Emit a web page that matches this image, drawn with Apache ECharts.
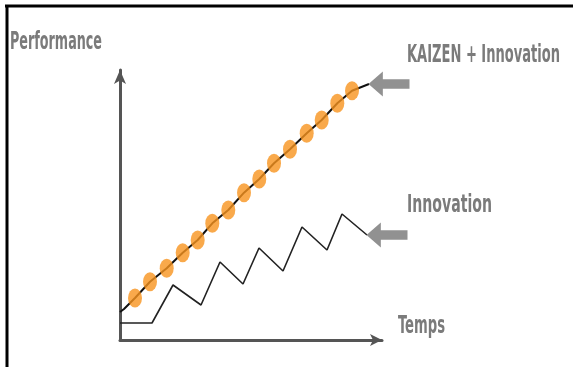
<!DOCTYPE html>
<html><head><meta charset="utf-8">
<script src="https://cdn.jsdelivr.net/npm/echarts@6/dist/echarts.min.js"></script>
<style>html,body{margin:0;padding:0;background:#fff}#c{width:573px;height:367px}</style>
</head><body><div id="c"></div>
<script>
// Data (units: abstract time / performance)
const kaizenLineX = [0, 4, 15, 30, 46.7, 62.7, 77.7, 92.3, 108.3, 124, 139.3, 154, 170, 186.7, 201.7, 217.3, 232, 249];
const kaizenLineY = [28, 31, 42, 58.3, 71.7, 87.3, 100, 116.7, 130, 147.3, 161, 176.7, 190.7, 206.7, 220, 236.7, 249.3, 256];
const kaizenDotX = [15, 30, 46.7, 62.7, 77.7, 92.3, 108.3, 124, 139.3, 154, 170, 186.7, 201.7, 217.3, 232];
const kaizenDotY = [42, 58.3, 71.7, 87.3, 100, 116.7, 130, 147.3, 161, 176.7, 190.7, 206.7, 220, 236.7, 249.3];
const innovationX = [0, 32, 53, 81, 100, 123, 139, 163, 182, 207, 222, 247];
const innovationY = [17, 17, 55, 35, 78, 56, 92, 69, 113, 90, 126, 105];
const arrowX = [249, 247];
const arrowY = [256, 105];
const labelX = [287, 287];
const labelY = [285, 135];
const labelText = ['KAIZEN + Innovation', 'Innovation'];
const xName = 'Temps';
const yName = 'Performance';

const FONT_FAMILY = "'DejaVu Sans Condensed', 'DejaVu Sans', sans-serif";
const FONT = 'bold 25px ' + FONT_FAMILY;
const TEXT_COLOR = '#7b7b7b';
const zip = (xs, ys) => xs.map((x, i) => [x, ys[i]]);
const arrowPath = 'path://M0,12 L14,0 L14,7.5 L40,7.5 L40,16.5 L14,16.5 L14,24 Z';

const measureCtx = document.createElement('canvas').getContext('2d');
function widthOf(text) { measureCtx.font = FONT; return measureCtx.measureText(text).width; }

const chart = echarts.init(document.getElementById('c'), null, {renderer: 'canvas'});
chart.setOption({
  backgroundColor: '#ffffff',
  animation: false,
  grid: {left: 120, right: 191, top: 70, bottom: 27, containLabel: false, outerBoundsMode: 'none'},
  xAxis: {
    type: 'value', min: 0, max: 262,
    axisLine: {show: true, symbol: ['none', 'arrow'], symbolSize: [9, 12], lineStyle: {color: '#555', width: 3}},
    axisTick: {show: false}, axisLabel: {show: false}, splitLine: {show: false}
  },
  yAxis: {
    type: 'value', min: 0, max: 270,
    axisLine: {show: true, symbol: ['none', 'arrow'], symbolSize: [9, 14], lineStyle: {color: '#555', width: 3}},
    axisTick: {show: false}, axisLabel: {show: false}, splitLine: {show: false}
  },
  series: [
    {
      type: 'line', name: 'Innovation', data: zip(innovationX, innovationY),
      showSymbol: false, clip: false,
      lineStyle: {color: '#222', width: 1.6}, z: 3
    },
    {
      type: 'line', name: 'KAIZEN + Innovation', data: zip(kaizenLineX, kaizenLineY),
      showSymbol: false, clip: false,
      lineStyle: {color: '#111', width: 2}, z: 3
    },
    {
      type: 'scatter', name: 'KAIZEN dots', data: zip(kaizenDotX, kaizenDotY),
      symbol: 'circle', symbolSize: [14, 19], clip: false,
      itemStyle: {color: '#F7941E'}, z: 4
    },
    {
      type: 'scatter', name: 'arrows', data: zip(arrowX, arrowY),
      symbol: arrowPath, symbolSize: [41, 25], symbolOffset: [20, 0], clip: false,
      itemStyle: {color: '#767676'}, z: 5
    }
  ]
});

// Texts: condensed by horizontal scaling, anchored to chart coordinates
function textEl(text, px, py, targetWidth) {
  return {
    type: 'text', x: px, y: py, originX: 0, originY: 0,
    scaleX: targetWidth / widthOf(text), scaleY: 1, z: 10,
    style: {text: text, font: FONT, fill: TEXT_COLOR, align: 'left', verticalAlign: 'middle'}
  };
}
const yTop = chart.convertToPixel({gridIndex: 0}, [0, 270]);
const xEnd = chart.convertToPixel({gridIndex: 0}, [262, 0]);
const lab0 = chart.convertToPixel({gridIndex: 0}, [labelX[0], labelY[0]]);
const lab1 = chart.convertToPixel({gridIndex: 0}, [labelX[1], labelY[1]]);
chart.setOption({
  graphic: [
    {type: 'line', shape: {x1: 5, y1: 6, x2: 573, y2: 6}, style: {stroke: '#000', lineWidth: 3}},
    {type: 'line', shape: {x1: 7, y1: 5, x2: 7, y2: 367}, style: {stroke: '#000', lineWidth: 3}},
    textEl(yName, yTop[0] - 110, yTop[1] - 28, 92),
    textEl(xName, xEnd[0] + 16, xEnd[1] - 14, 47),
    textEl(labelText[0], lab0[0], lab0[1], 153),
    textEl(labelText[1], lab1[0], lab1[1], 85)
  ]
});
</script></body></html>
